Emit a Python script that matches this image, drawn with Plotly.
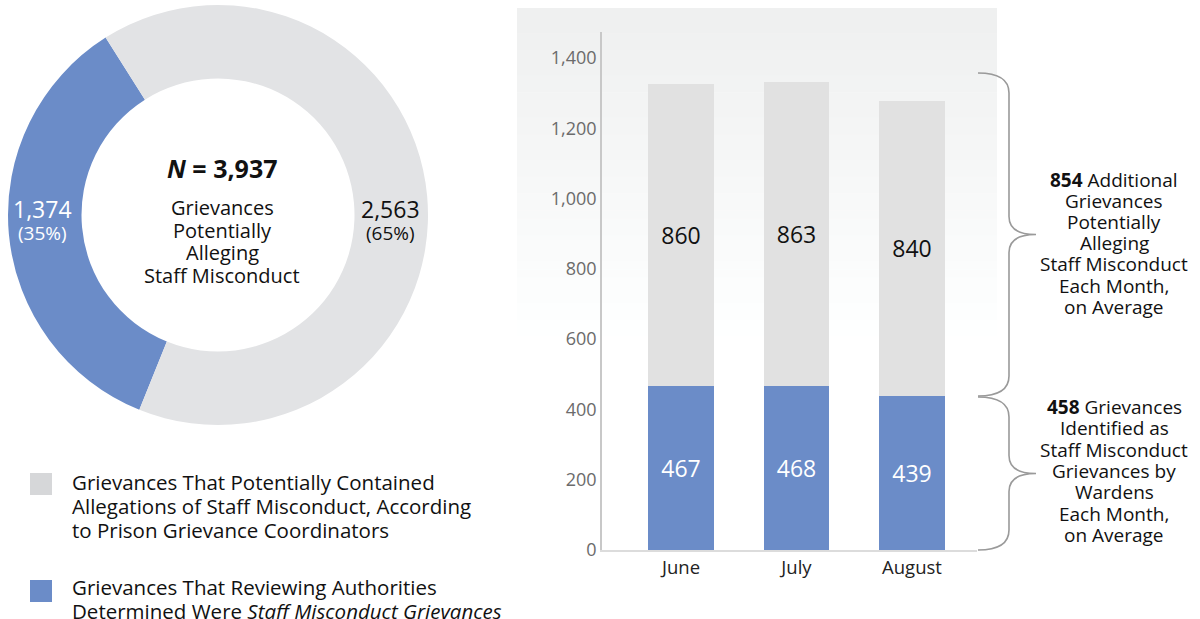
import plotly.graph_objects as go

# ---------------- data ----------------
donut_labels = ["Staff Misconduct Grievances", "Potentially Alleging Staff Misconduct"]
donut_values = [1374, 2563]
donut_pcts = ["35%", "65%"]
donut_total = 3937
donut_center_lines = ["Grievances", "Potentially", "Alleging", "Staff Misconduct"]

months = ["June", "July", "August"]
identified = [467, 468, 439]
additional = [860, 863, 840]
avg_additional = 854
avg_identified = 458

y_ticks = [0, 200, 400, 600, 800, 1000, 1200, 1400]

legend_lines = [
    ["Grievances That Potentially Contained",
     "Allegations of Staff Misconduct, According",
     "to Prison Grievance Coordinators"],
    ["Grievances That Reviewing Authorities",
     "Determined Were <i>Staff Misconduct Grievances</i>"],
]
brace_upper_lines = [f"<b>{avg_additional}</b> Additional", "Grievances", "Potentially",
                     "Alleging", "Staff Misconduct", "Each Month,", "on Average"]
brace_lower_lines = [f"<b>{avg_identified}</b> Grievances", "Identified as", "Staff Misconduct",
                     "Grievances by", "Wardens", "Each Month,", "on Average"]

# ---------------- style ----------------
W, H = 1200, 619          # target picture size
FIG_H = 630               # page height that maps onto the 619px picture
BLUE = "#6b8cc8"
GRAY = "#e2e3e5"
BARGRAY = "#e1e1e1"
TXT = "#111111"
FONT = "Open Sans"


def px(x):
    return min(max(x / W, 0), 1)


def py(y):
    return min(max(1 - y / H, 0), 1)


fig = go.Figure()

# donut
fig.add_trace(go.Pie(
    labels=donut_labels, values=donut_values, hole=0.65, sort=False,
    direction="counterclockwise", rotation=-158,
    marker=dict(colors=[BLUE, GRAY], line=dict(width=0)),
    textinfo="none", hoverinfo="label+value+percent", showlegend=False,
    domain=dict(x=[px(8), px(428)], y=[py(425), py(5)]),
))

# stacked bars
fig.add_trace(go.Bar(
    x=months, y=identified, marker=dict(color=BLUE, line=dict(width=0)),
    width=0.57, text=[str(v) for v in identified], textposition="inside",
    insidetextanchor="middle", textfont=dict(color="white", size=23, family=FONT),
    showlegend=False, xaxis="x", yaxis="y",
))
fig.add_trace(go.Bar(
    x=months, y=additional, marker=dict(color=BARGRAY, line=dict(width=0)),
    width=0.57, text=[str(v) for v in additional], textposition="inside",
    insidetextanchor="middle", textfont=dict(color=TXT, size=23, family=FONT),
    showlegend=False, xaxis="x", yaxis="y",
))

shapes = []
# gradient panel behind bar chart
n_bands = 40
top, bot = 8, 345
for i in range(n_bands):
    y0 = top + (bot - top) * i / n_bands
    y1 = top + (bot - top) * (i + 1) / n_bands
    t = i / (n_bands - 1)
    c = int(239 + (255 - 239) * t)
    shapes.append(dict(type="rect", xref="paper", yref="paper",
                       x0=px(517), x1=px(997), y0=py(y1 + 0.5), y1=py(y0),
                       fillcolor=f"rgb({c},{min(c + 1, 255)},{min(c + 1, 255)})",
                       line=dict(width=0), layer="below"))

# legend squares
shapes.append(dict(type="rect", xref="paper", yref="paper", x0=px(30), x1=px(52),
                   y0=py(495), y1=py(473), fillcolor="#d6d7d9", line=dict(width=0)))
shapes.append(dict(type="rect", xref="paper", yref="paper", x0=px(30), x1=px(52),
                   y0=py(602), y1=py(580), fillcolor=BLUE, line=dict(width=0)))


def brace(y_top, y_bot, x_end=978, x_v=1009, x_tip=1036):
    ym = (y_top + y_bot) / 2
    r = 20
    pts = [
        f"M {px(x_end)},{py(y_top)}",
        f"Q {px(x_v)},{py(y_top)} {px(x_v)},{py(y_top + r)}",
        f"L {px(x_v)},{py(ym - 18)}",
        f"Q {px(x_v)},{py(ym)} {px(x_tip)},{py(ym)}",
        f"Q {px(x_v)},{py(ym)} {px(x_v)},{py(ym + 18)}",
        f"L {px(x_v)},{py(y_bot - r)}",
        f"Q {px(x_v)},{py(y_bot)} {px(x_end)},{py(y_bot)}",
    ]
    return dict(type="path", xref="paper", yref="paper", path=" ".join(pts),
                line=dict(color="#9a9a9a", width=1.6))


shapes.append(brace(73, 396))
shapes.append(brace(397, 550))

annotations = []


def add_lines(lines, x, y0, step, size, color=TXT, anchor="center"):
    for i, ln in enumerate(lines):
        annotations.append(dict(xref="paper", yref="paper", x=px(x), y=py(y0 + i * step),
                                xanchor=anchor, yanchor="middle", text=ln, showarrow=False,
                                font=dict(size=size, color=color, family=FONT)))


# donut center
add_lines([f"<b><i>N</i> = {donut_total:,}</b>"], 222, 168, 0, 25)
add_lines(donut_center_lines, 222, 208, 22.4, 20)
# donut value labels
add_lines([f"{donut_values[0]:,}"], 42, 209, 0, 23, color="white")
add_lines([f"({donut_pcts[0]})"], 42, 233, 0, 19, color="white")
add_lines([f"{donut_values[1]:,}"], 391, 209, 0, 23)
add_lines([f"({donut_pcts[1]})"], 391, 233, 0, 19)
# legend texts
add_lines(legend_lines[0], 70, 482, 24, 20.5, anchor="left")
add_lines(legend_lines[1], 70, 587, 24, 20.5, anchor="left")
# brace texts
add_lines(brace_upper_lines, 1114, 180, 21.1, 19)
add_lines(brace_lower_lines, 1114, 407, 21.3, 19)

fig.update_layout(
    width=W, height=FIG_H, margin=dict(l=0, r=0, t=0, b=0),
    paper_bgcolor="white", plot_bgcolor="rgba(0,0,0,0)",
    barmode="stack",
    font=dict(family=FONT),
    xaxis=dict(domain=[px(602), px(977)], range=[-0.684, 2.563], type="category",
               showline=True, linecolor="#dcdcdc", linewidth=1.5, ticks="",
               tickfont=dict(size=18.5, color="#222222", family=FONT), showgrid=False,
               zeroline=False, fixedrange=True),
    yaxis=dict(domain=[py(550), py(32)], range=[0, 1474], tickvals=y_ticks,
               tickformat=",", showline=True, linecolor="#c8c8c8", linewidth=1.5,
               ticks="", ticklen=0, tickfont=dict(size=18, color="#6b6b6b", family=FONT),
               showgrid=False, zeroline=False, fixedrange=True),
    shapes=shapes, annotations=annotations,
)

fig.write_html(
    "out.html",
    config={"displayModeBar": False},
    post_script="document.body.style.margin='0';document.body.style.overflow='hidden';",
)
